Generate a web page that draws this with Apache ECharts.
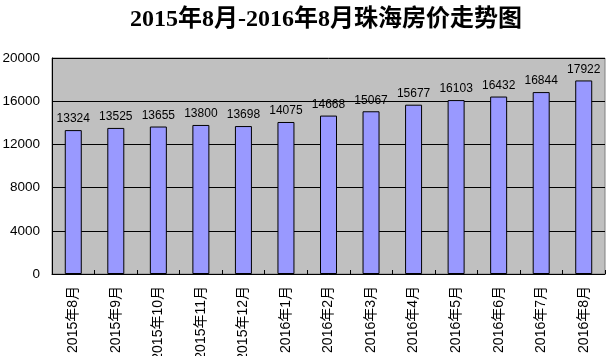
<!DOCTYPE html>
<html>
<head>
<meta charset="utf-8">
<script src="https://cdn.jsdelivr.net/npm/echarts@6/dist/echarts.min.js"></script>
<style>html,body{margin:0;padding:0;background:#fff;}#c{width:608px;height:356px;}</style>
</head>
<body>
<div id="c"></div>
<script>
const titleText = '2015年8月-2016年8月珠海房价走势图';
const categories = ['2015年8月','2015年9月','2015年10月','2015年11月','2015年12月','2016年1月','2016年2月','2016年3月','2016年4月','2016年5月','2016年6月','2016年7月','2016年8月'];
const prices = [13324, 13525, 13655, 13800, 13698, 14075, 14668, 15067, 15677, 16103, 16432, 16844, 17922];
const yTicks = { min: 0, max: 20000, interval: 4000 };

const chart = echarts.init(document.getElementById('c'), null, { renderer: 'canvas' });
chart.setOption({
  animation: false,
  backgroundColor: '#fff',
  title: {
    text: titleText,
    left: 321,
    textAlign: 'center',
    top: 3,
    textStyle: { fontFamily: '"Liberation Serif", "Noto Sans CJK SC", serif', fontWeight: 'bold', fontSize: 24, color: '#000' }
  },
  grid: {
    left: 52, right: 3, top: 58, bottom: 82,
    outerBoundsMode: 'none',
    containLabel: false,
    show: true, backgroundColor: '#C0C0C0', borderColor: '#808080', borderWidth: 1
  },
  xAxis: {
    type: 'category',
    data: categories,
    axisLine: { lineStyle: { color: '#000', width: 1 } },
    axisTick: { show: true, inside: true, length: 4, lineStyle: { color: '#000' } },
    axisLabel: { rotate: 90, fontSize: 14, color: '#000', margin: 12, interval: 0, hideOverlap: false, fontFamily: '"Liberation Sans", "Noto Sans CJK SC", sans-serif' }
  },
  yAxis: {
    type: 'value',
    min: yTicks.min, max: yTicks.max, interval: yTicks.interval,
    axisLine: { show: true, lineStyle: { color: '#000', width: 1 } },
    axisTick: { show: false },
    splitLine: { show: true, lineStyle: { color: '#000', width: 1 } },
    axisLabel: { fontSize: 13.5, color: '#000', margin: 12, formatter: function (v) { return String(v); }, fontFamily: '"Liberation Sans", sans-serif' }
  },
  series: [{
    type: 'bar',
    data: prices,
    barWidth: 17,
    itemStyle: { color: '#9999FF', borderColor: '#000', borderWidth: 1 },
    label: { show: true, position: 'top', distance: 5, fontSize: 12, color: '#000', fontFamily: '"Liberation Sans", sans-serif' }
  }]
});
</script>
</body>
</html>
